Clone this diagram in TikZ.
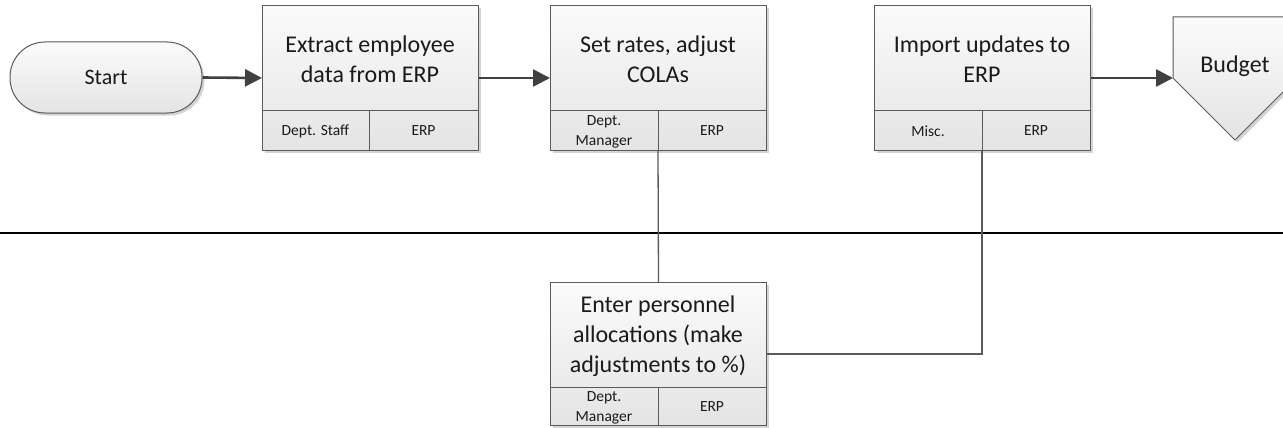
\documentclass[tikz,border=0pt]{standalone}
\usepackage{fontspec}
\setmainfont{Carlito}
\usetikzlibrary{arrows.meta,shadows}
\definecolor{edge}{HTML}{5A5A5A}
\definecolor{arrowc}{HTML}{404040}
\definecolor{shtop}{HTML}{FBFBFB}
\definecolor{shbot}{HTML}{E4E4E4}
\definecolor{shadowc}{HTML}{D4D4D4}
\definecolor{txt}{HTML}{1A1A1A}
\begin{document}
\begin{tikzpicture}[x=1pt,y=-1pt,
  boxbase/.style={draw=edge, line width=1pt, top color=shtop, bottom color=shbot,
    drop shadow={shadow xshift=2.5pt, shadow yshift=-2.5pt, fill=shadowc, opacity=1}},
  procbox/.style={boxbase, minimum width=216pt, minimum height=145pt, inner sep=0pt, anchor=north west},
  startbox/.style={boxbase, rounded corners=35pt, minimum width=192pt, minimum height=71pt, inner sep=0pt},
  maintext/.style={align=center, text=txt, inner sep=0pt, font=\fontsize{24}{30}\selectfont},
  smalltext/.style={align=center, text=txt, inner sep=0pt, font=\fontsize{15.5}{20}\selectfont},
  divider/.style={draw=edge, line width=1pt},
  flow/.style={draw=arrowc, line width=2.6pt, -{Triangle[length=17pt,width=17pt]}},
  link/.style={draw=edge, line width=1.3pt},
  sepline/.style={draw=black, line width=2pt}]
\useasboundingbox (0,0) rectangle (1283,428);

% separator
\coordinate (sepL) at (0,233);
\coordinate (sepR) at (1283,233);
\draw[sepline] (sepL) -- (sepR);

% start
\node[startbox] (start) at (106,77.5) {};
\node[maintext, font=\fontsize{22}{26}\selectfont] (starttxt) at (start.center) {Start};

% process 1
\node[procbox] (p1) at (262,5) {};
\draw[divider] (262,110) -- (478,110);
\draw[divider] (369,110) -- (369,150);
\node[maintext] (t1) at (370,59) {Extract employee\\data from ERP};
\node[smalltext] (r1) at (315.5,131) {Dept. Staff};
\node[smalltext] (s1) at (423.5,131) {ERP};

% process 2
\node[procbox] (p2) at (550,5) {};
\draw[divider] (550,110) -- (766,110);
\draw[divider] (658,110) -- (658,150);
\node[maintext] (t2) at (658,59) {Set rates, adjust\\COLAs};
\node[smalltext] (r2) at (604,132) {Dept.\\Manager};
\node[smalltext] (s2) at (712,131) {ERP};

% process 3
\node[procbox] (p3) at (874,5) {};
\draw[divider] (874,110) -- (1090,110);
\draw[divider] (982,110) -- (982,150);
\node[maintext] (t3) at (982,59) {Import updates to\\ERP};
\node[smalltext] (r3) at (928,131) {Misc.};
\node[smalltext] (s3) at (1036,131) {ERP};

% process 4
\node[procbox, minimum height=143pt] (p4) at (550,282) {};
\draw[divider] (550,387) -- (766,387);
\draw[divider] (658,387) -- (658,425);
\node[maintext] (t4) at (658,336) {Enter personnel\\allocations (make\\adjustments to \%)};
\node[smalltext] (r4) at (604,407.5) {Dept.\\Manager};
\node[smalltext] (s4) at (712,407) {ERP};

% budget off-page connector
\begin{scope}
  \clip (0,0) rectangle (1283,428);
  \path[boxbase] (1173,17) -- (1297,17) -- (1297,78) -- (1235,140) -- (1173,78) -- cycle;
\end{scope}
\coordinate (bin) at (1173,78);
\node[maintext] (budget) at (1235,66) {Budget};

% flows
\draw[flow] (start.east) -- (p1.west);
\draw[flow] (p1.east) -- (p2.west);
\draw[flow] (p3.east) -- (bin);

% links
\coordinate (p2foot) at (658,150);
\coordinate (p3foot) at (982,150);
\draw[link] (p2foot) -- (p4.north);
\draw[link] (p4.east) -| (p3foot);
\end{tikzpicture}
\end{document}
